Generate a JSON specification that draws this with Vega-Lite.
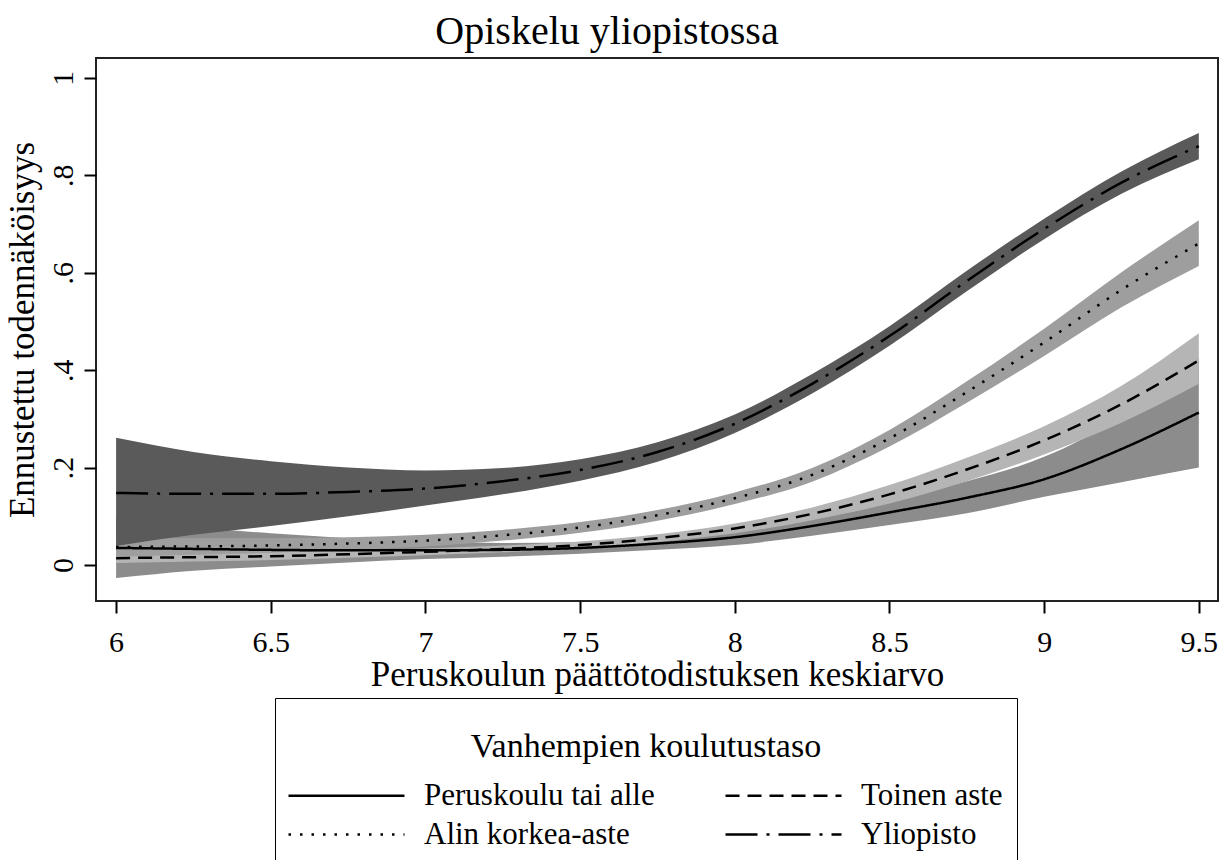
{
  "$schema": "https://vega.github.io/schema/vega-lite/v6.json",
  "width": 1122,
  "height": 543,
  "autosize": {"type": "none"},
  "padding": {"left": 96, "top": 58, "right": 9, "bottom": 259},
  "background": "white",
  "title": {"text": "Opiskelu yliopistossa", "font": "Liberation Serif", "fontSize": 40, "fontWeight": "normal", "color": "black", "anchor": "middle", "dx": -50, "offset": 6},
  "data": {"values": [
    {"x": 6, "series": "Peruskoulu tai alle", "est": 0.035, "lo": -0.027, "hi": 0.097},
    {"x": 6.25, "series": "Peruskoulu tai alle", "est": 0.033, "lo": -0.012, "hi": 0.078},
    {"x": 6.5, "series": "Peruskoulu tai alle", "est": 0.031, "lo": -0.003, "hi": 0.065},
    {"x": 6.75, "series": "Peruskoulu tai alle", "est": 0.030, "lo": 0.005, "hi": 0.055},
    {"x": 7, "series": "Peruskoulu tai alle", "est": 0.030, "lo": 0.012, "hi": 0.048},
    {"x": 7.25, "series": "Peruskoulu tai alle", "est": 0.031, "lo": 0.017, "hi": 0.045},
    {"x": 7.5, "series": "Peruskoulu tai alle", "est": 0.035, "lo": 0.023, "hi": 0.047},
    {"x": 7.75, "series": "Peruskoulu tai alle", "est": 0.044, "lo": 0.031, "hi": 0.057},
    {"x": 8, "series": "Peruskoulu tai alle", "est": 0.057, "lo": 0.041, "hi": 0.073},
    {"x": 8.25, "series": "Peruskoulu tai alle", "est": 0.080, "lo": 0.060, "hi": 0.100},
    {"x": 8.5, "series": "Peruskoulu tai alle", "est": 0.108, "lo": 0.082, "hi": 0.134},
    {"x": 8.75, "series": "Peruskoulu tai alle", "est": 0.138, "lo": 0.106, "hi": 0.172},
    {"x": 9, "series": "Peruskoulu tai alle", "est": 0.176, "lo": 0.140, "hi": 0.222},
    {"x": 9.25, "series": "Peruskoulu tai alle", "est": 0.238, "lo": 0.170, "hi": 0.305},
    {"x": 9.5, "series": "Peruskoulu tai alle", "est": 0.313, "lo": 0.200, "hi": 0.426},
    {"x": 6, "series": "Toinen aste", "est": 0.014, "lo": 0.004, "hi": 0.024},
    {"x": 6.25, "series": "Toinen aste", "est": 0.016, "lo": 0.007, "hi": 0.025},
    {"x": 6.5, "series": "Toinen aste", "est": 0.018, "lo": 0.010, "hi": 0.026},
    {"x": 6.75, "series": "Toinen aste", "est": 0.022, "lo": 0.015, "hi": 0.029},
    {"x": 7, "series": "Toinen aste", "est": 0.027, "lo": 0.020, "hi": 0.034},
    {"x": 7.25, "series": "Toinen aste", "est": 0.033, "lo": 0.026, "hi": 0.040},
    {"x": 7.5, "series": "Toinen aste", "est": 0.041, "lo": 0.034, "hi": 0.048},
    {"x": 7.75, "series": "Toinen aste", "est": 0.055, "lo": 0.047, "hi": 0.063},
    {"x": 8, "series": "Toinen aste", "est": 0.075, "lo": 0.065, "hi": 0.085},
    {"x": 8.25, "series": "Toinen aste", "est": 0.105, "lo": 0.092, "hi": 0.118},
    {"x": 8.5, "series": "Toinen aste", "est": 0.145, "lo": 0.126, "hi": 0.164},
    {"x": 8.75, "series": "Toinen aste", "est": 0.196, "lo": 0.172, "hi": 0.220},
    {"x": 9, "series": "Toinen aste", "est": 0.256, "lo": 0.227, "hi": 0.285},
    {"x": 9.25, "series": "Toinen aste", "est": 0.330, "lo": 0.292, "hi": 0.368},
    {"x": 9.5, "series": "Toinen aste", "est": 0.420, "lo": 0.372, "hi": 0.476},
    {"x": 6, "series": "Alin korkea-aste", "est": 0.037, "lo": 0.017, "hi": 0.057},
    {"x": 6.25, "series": "Alin korkea-aste", "est": 0.038, "lo": 0.021, "hi": 0.055},
    {"x": 6.5, "series": "Alin korkea-aste", "est": 0.040, "lo": 0.025, "hi": 0.055},
    {"x": 6.75, "series": "Alin korkea-aste", "est": 0.044, "lo": 0.031, "hi": 0.057},
    {"x": 7, "series": "Alin korkea-aste", "est": 0.050, "lo": 0.038, "hi": 0.062},
    {"x": 7.25, "series": "Alin korkea-aste", "est": 0.061, "lo": 0.050, "hi": 0.072},
    {"x": 7.5, "series": "Alin korkea-aste", "est": 0.077, "lo": 0.066, "hi": 0.088},
    {"x": 7.75, "series": "Alin korkea-aste", "est": 0.102, "lo": 0.091, "hi": 0.113},
    {"x": 8, "series": "Alin korkea-aste", "est": 0.137, "lo": 0.125, "hi": 0.149},
    {"x": 8.25, "series": "Alin korkea-aste", "est": 0.185, "lo": 0.171, "hi": 0.199},
    {"x": 8.5, "series": "Alin korkea-aste", "est": 0.260, "lo": 0.243, "hi": 0.277},
    {"x": 8.75, "series": "Alin korkea-aste", "est": 0.355, "lo": 0.333, "hi": 0.377},
    {"x": 9, "series": "Alin korkea-aste", "est": 0.457, "lo": 0.429, "hi": 0.485},
    {"x": 9.25, "series": "Alin korkea-aste", "est": 0.565, "lo": 0.529, "hi": 0.601},
    {"x": 9.5, "series": "Alin korkea-aste", "est": 0.660, "lo": 0.614, "hi": 0.708},
    {"x": 6, "series": "Yliopisto", "est": 0.148, "lo": 0.039, "hi": 0.261},
    {"x": 6.25, "series": "Yliopisto", "est": 0.146, "lo": 0.062, "hi": 0.232},
    {"x": 6.5, "series": "Yliopisto", "est": 0.146, "lo": 0.080, "hi": 0.213},
    {"x": 6.75, "series": "Yliopisto", "est": 0.150, "lo": 0.100, "hi": 0.200},
    {"x": 7, "series": "Yliopisto", "est": 0.157, "lo": 0.122, "hi": 0.194},
    {"x": 7.25, "series": "Yliopisto", "est": 0.172, "lo": 0.145, "hi": 0.199},
    {"x": 7.5, "series": "Yliopisto", "est": 0.195, "lo": 0.173, "hi": 0.217},
    {"x": 7.75, "series": "Yliopisto", "est": 0.232, "lo": 0.212, "hi": 0.252},
    {"x": 8, "series": "Yliopisto", "est": 0.290, "lo": 0.271, "hi": 0.309},
    {"x": 8.25, "series": "Yliopisto", "est": 0.372, "lo": 0.352, "hi": 0.392},
    {"x": 8.5, "series": "Yliopisto", "est": 0.470, "lo": 0.450, "hi": 0.490},
    {"x": 8.75, "series": "Yliopisto", "est": 0.583, "lo": 0.562, "hi": 0.604},
    {"x": 9, "series": "Yliopisto", "est": 0.690, "lo": 0.669, "hi": 0.711},
    {"x": 9.25, "series": "Yliopisto", "est": 0.785, "lo": 0.762, "hi": 0.808},
    {"x": 9.5, "series": "Yliopisto", "est": 0.860, "lo": 0.833, "hi": 0.887}
  ]},
  "encoding": {
    "x": {
      "field": "x", "type": "quantitative",
      "scale": {"domain": [5.935, 9.562], "nice": false, "zero": false},
      "axis": {"values": [6, 6.5, 7, 7.5, 8, 8.5, 9, 9.5], "format": "~g", "title": "Peruskoulun päättötodistuksen keskiarvo"}
    }
  },
  "layer": [
    {
      "transform": [{"filter": "datum.series === 'Peruskoulu tai alle'"}],
      "mark": {"type": "area", "color": "#8c8c8c", "opacity": 1, "interpolate": "monotone"},
      "encoding": {
        "y": {"field": "lo", "type": "quantitative", "scale": {"domain": [-0.074, 1.041], "nice": false, "zero": false},
              "axis": {"values": [0, 0.2, 0.4, 0.6, 0.8, 1], "labelExpr": "datum.value == 0 ? '0' : datum.value == 1 ? '1' : replace(format(datum.value, '.1f'), '0.', '.')"},
              "title": "Ennustettu todennäköisyys"},
        "y2": {"field": "hi"}
      }
    },
    {
      "transform": [{"filter": "datum.series === 'Toinen aste'"}],
      "mark": {"type": "area", "color": "#b5b5b5", "opacity": 1, "interpolate": "monotone"},
      "encoding": {
        "y": {"field": "lo", "type": "quantitative", "title": "Ennustettu todennäköisyys"},
        "y2": {"field": "hi"}
      }
    },
    {
      "transform": [{"filter": "datum.series === 'Alin korkea-aste'"}],
      "mark": {"type": "area", "color": "#9e9e9e", "opacity": 1, "interpolate": "monotone"},
      "encoding": {
        "y": {"field": "lo", "type": "quantitative", "title": "Ennustettu todennäköisyys"},
        "y2": {"field": "hi"}
      }
    },
    {
      "transform": [{"filter": "datum.series === 'Yliopisto'"}],
      "mark": {"type": "area", "color": "#5a5a5a", "opacity": 1, "interpolate": "monotone"},
      "encoding": {
        "y": {"field": "lo", "type": "quantitative", "title": "Ennustettu todennäköisyys"},
        "y2": {"field": "hi"}
      }
    },
    {
      "mark": {"type": "line", "stroke": "black", "strokeWidth": 2.5, "interpolate": "monotone"},
      "encoding": {
        "y": {"field": "est", "type": "quantitative", "title": "Ennustettu todennäköisyys"},
        "strokeDash": {
          "field": "series", "type": "nominal",
          "scale": {
            "domain": ["Peruskoulu tai alle", "Alin korkea-aste", "Toinen aste", "Yliopisto"],
            "range": [[1, 0], [2.5, 9], [14, 8], [32, 9, 3, 9]]
          },
          "legend": {
            "title": ["", "Vanhempien koulutustaso"],
            "titleLineHeight": 18,
            "orient": "none", "legendX": 179, "legendY": 640,
            "direction": "vertical",
            "columns": 2,
            "symbolType": "M-5.8,0H5.8", "symbolSize": 400, "symbolOffset": 42, "symbolStrokeWidth": 2.5, "symbolStrokeColor": "black", "symbolFillColor": "transparent",
            "labelFont": "Liberation Serif", "labelFontSize": 31, "labelColor": "black", "labelOffset": 62, "labelLimit": 400,
            "titleFont": "Liberation Serif", "titleFontSize": 34, "titleFontWeight": "normal", "titleColor": "black",
            "titleAnchor": "middle", "titlePadding": 16, "titleLimit": 700,
            "strokeColor": "black", "fillColor": "white", "padding": 14,
            "columnPadding": 65, "rowPadding": 7
          }
        }
      }
    }
  ],
  "config": {
    "view": {"stroke": "#222222", "strokeWidth": 2},
    "axis": {
      "domain": false, "grid": false,
      "tickColor": "black", "tickWidth": 2, "tickSize": 12,
      "labelFont": "Liberation Serif", "labelFontSize": 30, "labelColor": "black",
      "titleFont": "Liberation Serif", "titleFontSize": 35, "titleFontWeight": "normal", "titleColor": "black"
    },
    "axisY": {"labelAngle": -90, "labelAlign": "center", "labelBaseline": "bottom", "labelPadding": 6, "titlePadding": 8},
    "axisX": {"labelPadding": 14, "titlePadding": 0}
  }
}
